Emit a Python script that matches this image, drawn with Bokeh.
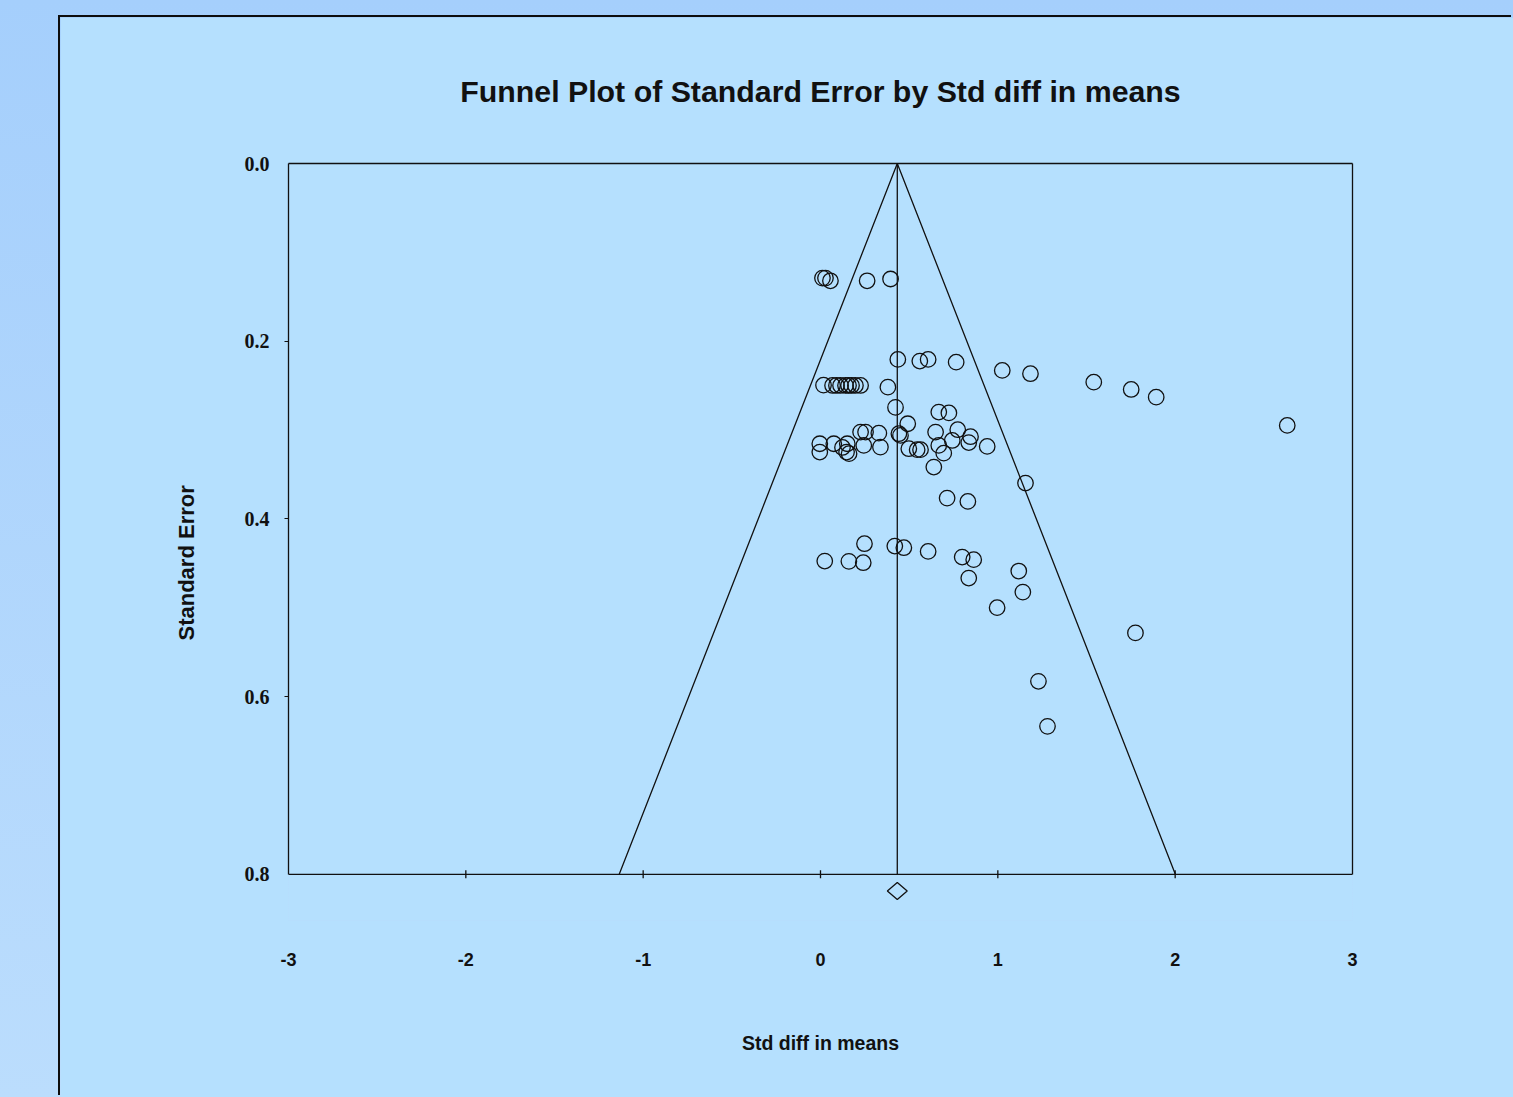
from bokeh.plotting import figure
from bokeh.models import (Range1d, LinearAxis, FixedTicker, Span, PrintfTickFormatter,
                          GlobalInlineStyleSheet, InlineStyleSheet, Title)
from bokeh.embed import file_html
from bokeh.resources import INLINE

# ---------------- data ----------------
std_diff = [0.011, 0.028, 0.056, 0.263, 0.395,
            0.436, 0.560, 0.607, 0.765, 1.025, 1.184, 1.541, 1.752, 1.893, 2.632,
            0.017, 0.068, 0.090, 0.113, 0.141, 0.158, 0.175, 0.197, 0.226, 0.380,
            0.423, 0.667, 0.724, 0.492,
            -0.004, -0.004, 0.075, 0.124, 0.147, 0.161, 0.151, 0.226, 0.254, 0.244,
            0.329, 0.338, 0.442, 0.451, 0.498, 0.545, 0.564, 0.649, 0.667, 0.695,
            0.743, 0.774, 0.836, 0.846, 0.940,
            0.639, 1.156, 0.714, 0.831,
            0.248, 0.419, 0.470, 0.607, 0.024, 0.160, 0.241, 0.799, 0.864, 0.836,
            1.118, 1.141, 0.996, 1.776, 1.229, 1.280]
std_err = [0.129, 0.129, 0.132, 0.132, 0.130,
           0.2205, 0.2224, 0.2205, 0.2236, 0.2329, 0.2366, 0.2461, 0.2543, 0.2630, 0.2948,
           0.2495, 0.2498, 0.2498, 0.2498, 0.2498, 0.2498, 0.2498, 0.2498, 0.2498, 0.2517,
           0.2745, 0.2798, 0.2807, 0.2929,
           0.3154, 0.3248, 0.3154, 0.3196, 0.3248, 0.3266, 0.3154, 0.3023, 0.3023, 0.3173,
           0.3035, 0.3192, 0.3041, 0.3060, 0.3210, 0.3221, 0.3221, 0.3023, 0.3173, 0.3260,
           0.3117, 0.2996, 0.3141, 0.3075, 0.3184,
           0.3417, 0.3597, 0.3766, 0.3803,
           0.4279, 0.4306, 0.4324, 0.4366, 0.4475, 0.4478, 0.4493, 0.4430, 0.4459, 0.4666,
           0.4587, 0.4824, 0.4999, 0.5283, 0.5828, 0.6335]

pooled_est = 0.433      # combined std diff in means
pooled_lo = 0.377       # lower CI of combined effect
pooled_hi = 0.489       # upper CI of combined effect
z_crit = 1.96
se_max = 0.8

x_ticks = [-3, -2, -1, 0, 1, 2, 3]
x_tick_labels = ["-3", "-2", "-1", "0", "1", "2", "3"]
y_ticks = [0.0, 0.2, 0.4, 0.6, 0.8]
y_tick_labels = ["0.0", "0.2", "0.4", "0.6", "0.8"]

title_text = "Funnel Plot of Standard Error by Std diff in means"
x_label = "Std diff in means"
y_label = "Standard Error"

# ---------------- styling ----------------
PANEL = "#b5e0fe"
INK = "#111111"
SANS = "Liberation Sans"
SERIF = "Liberation Serif"

y_bottom = 0.852   # visible range below the axis box (room for the diamond)

p = figure(width=1453, height=1080,
           x_range=Range1d(-3, 3), y_range=Range1d(y_bottom, 0),
           output_backend="svg", toolbar_location=None,
           x_axis_location=None, y_axis_location=None,
           min_border_left=228, min_border_right=161,
           min_border_top=146, min_border_bottom=177,
           background_fill_color=PANEL, border_fill_color=PANEL,
           outline_line_color=None)
p.xgrid.grid_line_color = None
p.ygrid.grid_line_color = None
p.margin = (17, 0, 0, 60)
p.stylesheets = [
    GlobalInlineStyleSheet(css="""
        html { min-height: 100%; background: linear-gradient(180deg, #a5cffc 0%, #bbddfd 100%) fixed; }
        body { overflow: hidden; }
    """),
    InlineStyleSheet(css=":host { box-shadow: -2px -2px 0 0 #0d0d0d; }"),
]

# title
p.title.text = title_text
p.title.align = "center"
p.title.vertical_align = "middle"
p.title.text_font = SANS
p.title.text_font_style = "bold"
p.title.text_font_size = "30.3px"
p.title.text_color = INK
p.title.standoff = 110

# left axis with tick labels
yax = LinearAxis(ticker=FixedTicker(ticks=y_ticks, minor_ticks=y_ticks[1:-1]),
                 bounds=(y_ticks[0], y_ticks[-1]),
                 formatter=PrintfTickFormatter(format="%.1f"),
                 major_label_overrides={t: l for t, l in zip(y_ticks, y_tick_labels)})
yax.axis_line_color = INK
yax.axis_line_width = 1.3
yax.major_tick_out = 0
yax.major_tick_in = 0
yax.minor_tick_out = 4
yax.minor_tick_in = 0
yax.minor_tick_line_color = INK
yax.major_label_standoff = 15
yax.major_label_text_font = SERIF
yax.major_label_text_font_style = "bold"
yax.major_label_text_font_size = "20px"
yax.major_label_text_color = INK
p.add_layout(yax, "left")

# y axis title, placed on the left side
ytitle = Title(text=y_label, align="left", offset=280, standoff=86,
               text_font=SANS, text_font_style="bold", text_font_size="22px",
               text_color=INK)
p.add_layout(ytitle, "left")

# right and top box edges
rax = LinearAxis(ticker=FixedTicker(ticks=[]), bounds=(y_ticks[0], y_ticks[-1]))
rax.axis_line_color = INK
rax.axis_line_width = 1.3
rax.major_tick_out = 0
rax.minor_tick_out = 0
p.add_layout(rax, "right")

tax = LinearAxis(ticker=FixedTicker(ticks=[]))
tax.axis_line_color = INK
tax.axis_line_width = 1.3
tax.major_tick_out = 0
tax.minor_tick_out = 0
p.add_layout(tax, "above")

# bottom axis: labels only (the axis line is drawn at SE = 0.8)
xax = LinearAxis(ticker=FixedTicker(ticks=x_ticks),
                 major_label_overrides={t: l for t, l in zip(x_ticks, x_tick_labels)})
xax.axis_line_color = None
xax.major_tick_line_color = None
xax.minor_tick_line_color = None
xax.major_tick_out = 0
xax.minor_tick_out = 0
xax.major_label_standoff = 32
xax.major_label_text_font = SANS
xax.major_label_text_font_style = "bold"
xax.major_label_text_font_size = "18px"
xax.major_label_text_color = INK
xax.axis_label = x_label
xax.axis_label_standoff = 63
xax.axis_label_text_font = SANS
xax.axis_label_text_font_style = "bold"
xax.axis_label_text_font_size = "19.5px"
xax.axis_label_text_color = INK
p.add_layout(xax, "below")

p.add_layout(Span(location=se_max, dimension="width", line_color=INK, line_width=1.3))
tick_half = 0.0045
inner_ticks = x_ticks[1:-1]
p.segment(x0=inner_ticks, x1=inner_ticks,
          y0=[se_max - tick_half] * len(inner_ticks), y1=[se_max + tick_half] * len(inner_ticks),
          line_color=INK, line_width=1.3)

# funnel and mean line
p.line([pooled_est - z_crit * se_max, pooled_est, pooled_est + z_crit * se_max],
       [se_max, 0, se_max], line_color=INK, line_width=1.3)
p.line([pooled_est, pooled_est], [0, se_max], line_color=INK, line_width=1.3)

# studies
p.scatter(std_diff, std_err, marker="circle", size=15.5, fill_color=None,
          line_color=INK, line_width=1.3)

# combined-effect diamond below the axis
d_y = 0.8188
d_h = 0.0095
p.patch([pooled_lo, pooled_est, pooled_hi, pooled_est],
        [d_y, d_y - d_h, d_y, d_y + d_h],
        fill_color=None, line_color=INK, line_width=1.3)

open("out.html", "w").write(file_html(p, INLINE))
